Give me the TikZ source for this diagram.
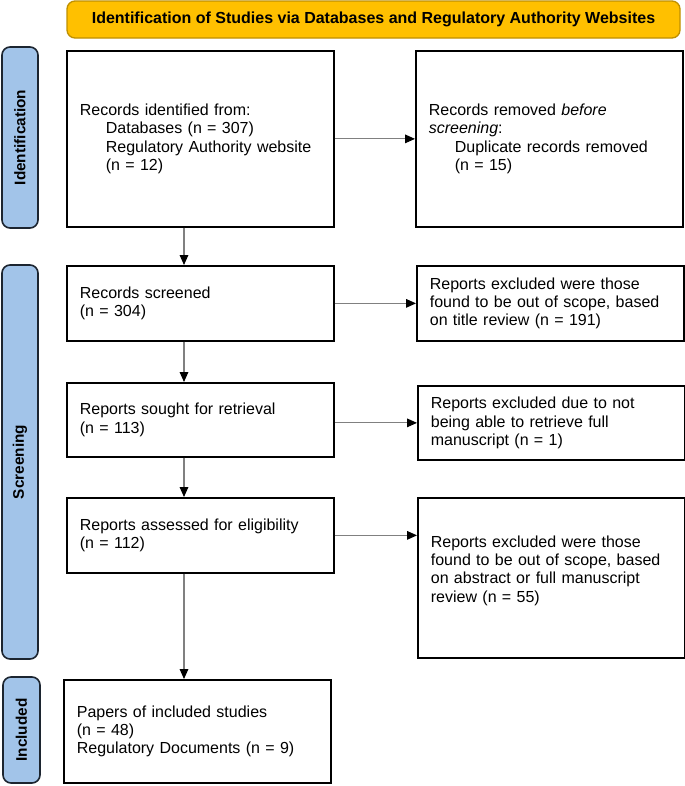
\documentclass[tikz,border=0pt]{standalone}
\usepackage{fontspec}
\setmainfont{Liberation Sans}
\usetikzlibrary{positioning,arrows.meta}
\definecolor{bannerFill}{HTML}{FFC000}
\definecolor{bannerLine}{HTML}{BF9000}
\definecolor{phaseFill}{HTML}{A2C4E9}
\definecolor{phaseLine}{HTML}{1C2530}
\tikzset{
  box/.style={rectangle, draw, line width=1.3pt, fill=white, anchor=north west, align=left,
    inner xsep=9.75pt, minimum width=200.25pt, text width=180.75pt, font=\fontsize{12}{13.8}\selectfont},
  banner/.style={rectangle, rounded corners=6pt, draw=bannerLine, line width=1pt, fill=bannerFill,
    font=\bfseries\fontsize{12}{13}\selectfont},
  phase/.style={rectangle, rounded corners=6pt, draw=phaseLine, line width=1.2pt, fill=phaseFill,
    rotate=90, font=\bfseries\fontsize{11.5}{13}\selectfont},
  flowOp/.style={draw=gray, line width=0.8pt, -{Triangle[length=7.5pt, width=6.5pt, color=black]}}
}
\newcommand{\subItem}{\hspace*{19.5pt}}

\begin{document}
\begin{tikzpicture}[x=0.75pt, y=-0.75pt]
  \useasboundingbox (0,0) rectangle (685,786);
  % header and phases
  \node [banner, minimum width=459.75pt, minimum height=27.75pt] (head) at (373.5,19.5)
    {Identification of Studies via Databases and Regulatory Authority Websites};
  \node [phase, minimum width=135.75pt, minimum height=27pt] (phIdent) at (20,137.5) {Identification};
  \node [phase, minimum width=295.5pt, minimum height=27pt] (phScreen) at (20,462) {Screening};
  \node [phase, minimum width=79.5pt, minimum height=27.75pt] (phIncl) at (21.5,730) {Included};

  % left column
  \node [box, minimum height=132pt] (recIdent) at (66,50)
    {Records identified from:\\\subItem Databases (n = 307)\\\subItem Regulatory Authority website\\\subItem (n = 12)};
  \node [box, minimum height=56.25pt] (recScreened) at (66,265) {Records screened\\(n = 304)};
  \node [box, minimum height=55.5pt] (repSought) at (66,382) {Reports sought for retrieval\\(n = 113)};
  \node [box, minimum height=56.25pt] (repAssessed) at (66,497) {Reports assessed for eligibility\\(n = 112)};
  \node [box, minimum height=77.25pt] (papers) at (63,679)
    {Papers of included studies\\(n = 48)\\Regulatory Documents (n = 9)};

  % right column
  \node [box, minimum height=132pt] (recRemoved) at (415,50)
    {Records removed \textit{before}\\\textit{screening}:\\\subItem Duplicate records removed\\\subItem (n = 15)};
  \node [box, minimum height=56.25pt] (exTitle) at (416,265)
    {Reports excluded were those\\found to be out of scope, based\\on title review (n = 191)};
  \node [box, minimum height=55.5pt] (exRetrieve) at (417,385)
    {Reports excluded due to not\\being able to retrieve full\\manuscript (n = 1)};
  \node [box, minimum height=120pt, text depth=55pt] (exAbstract) at (417,497)
    {Reports excluded were those\\found to be out of scope, based\\on abstract or full manuscript\\review (n = 55)};

  % connectors
  \coordinate (spine) at (184,0);
  \draw [flowOp] (recIdent.south -| spine) -- (recScreened.north -| spine);
  \draw [flowOp] (recScreened.south -| spine) -- (repSought.north -| spine);
  \draw [flowOp] (repSought.south -| spine) -- (repAssessed.north -| spine);
  \draw [flowOp] (repAssessed.south -| spine) -- (papers.north -| spine);
  \draw [flowOp] (recIdent) -- (recRemoved);
  \draw [flowOp] (recScreened) -- (exTitle);
  \draw [flowOp] (repSought.east |- exRetrieve) -- (exRetrieve.west);
  \draw [flowOp] (repAssessed.east) -- (repAssessed.east -| exAbstract.west);
\end{tikzpicture}
\end{document}
